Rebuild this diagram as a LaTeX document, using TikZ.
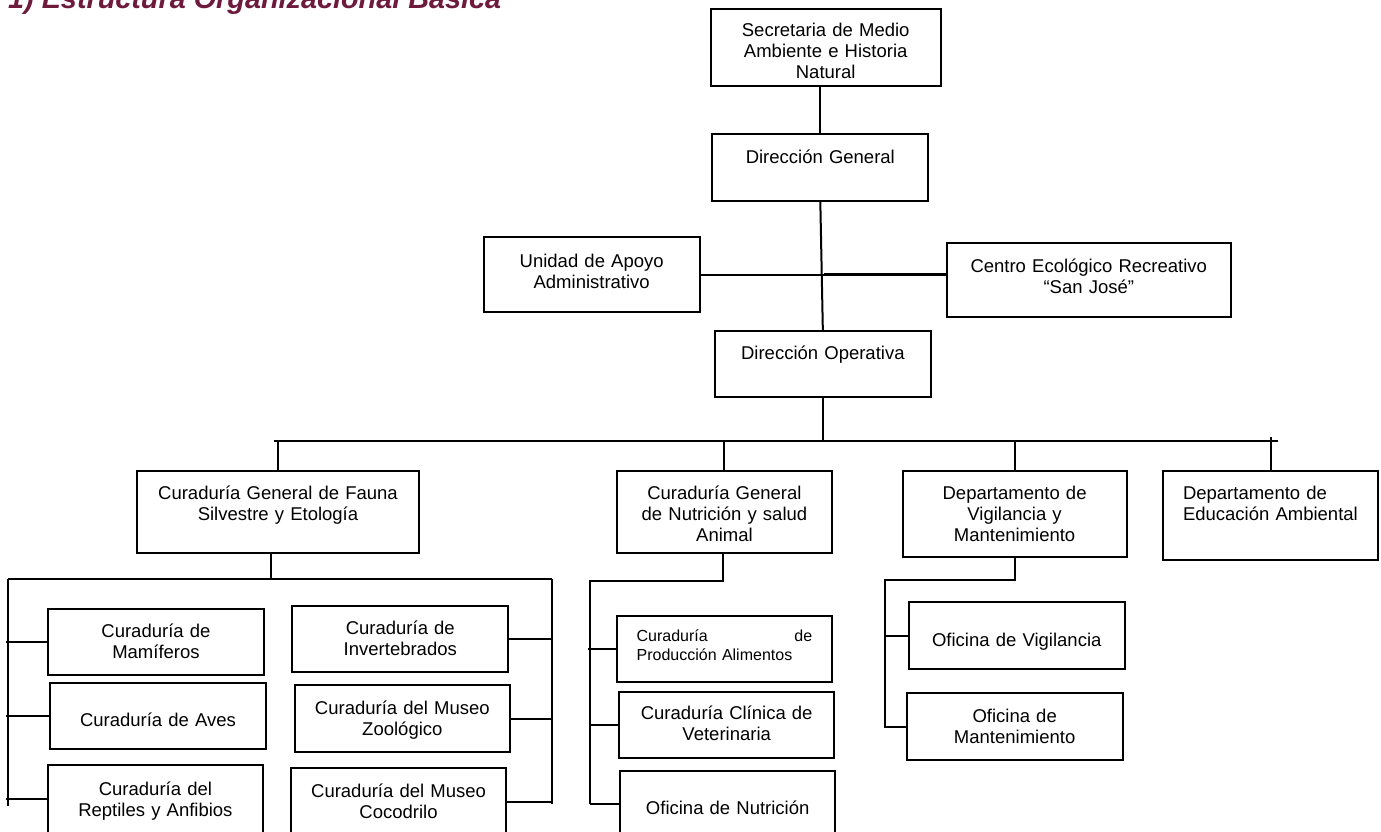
\documentclass[tikz,border=0pt]{standalone}
\usepackage{fontspec}
\setmainfont{Liberation Sans}
\usepackage{tikz}
\usetikzlibrary{calc}
\usepackage{xcolor}
\definecolor{titlered}{RGB}{109,26,60}
\newcommand{\boxfont}{\fontsize{18.5}{21}\selectfont}
\newcommand{\smallboxfont}{\fontsize{16}{19}\selectfont}

\begin{document}
\begin{tikzpicture}[x=1pt, y=-1pt,
  orgbox/.style={draw, line width=2pt, inner sep=0pt, outer sep=0pt},
  boxtext/.style={font=\boxfont, align=center, anchor=base, inner sep=0pt, text width=#1},
  conn/.style={line width=2pt}]
\useasboundingbox (0,0) rectangle (1381,831);
\clip (0,0) rectangle (1381,831);

\node[anchor=base west, inner sep=0pt, text=titlered, font=\fontsize{28.8}{32}\selectfont\bfseries\itshape] (title) at (8,8) {1) Estructura Organizacional Básica};

% upper levels
\node[orgbox, minimum width=230pt, minimum height=77.6pt, label={[boxtext=224pt, yshift=-28pt]90:{Secretaria de Medio\\Ambiente e Historia\\Natural}}] (sec) at (825.7,47.5) {};
\node[orgbox, minimum width=216pt, minimum height=66.7pt, label={[boxtext=210pt, yshift=-29pt]90:{Dirección General}}] (dg) at (820.3,167.65) {};
\node[orgbox, minimum width=216pt, minimum height=75pt, label={[boxtext=210pt, yshift=-30pt]90:{Unidad de Apoyo\\Administrativo}}] (una) at (591.7,274.8) {};
\node[orgbox, minimum width=284.5pt, minimum height=74pt, label={[boxtext=278pt, yshift=-29.5pt]90:{Centro Ecológico Recreativo\\“San José”}}] (cen) at (1088.75,280) {};
\node[orgbox, minimum width=215.7pt, minimum height=66.6pt, label={[boxtext=210pt, yshift=-28.5pt]90:{Dirección Operativa}}] (dop) at (822.85,364) {};

\draw[conn] (dg.north) -- (dg.north |- sec.south);
\draw[conn] (dg.south) -- (dop.north);
\draw[conn] (una.east) -- (una.east -| cen.west);
\draw[line width=3pt] ($(una.east -| dop.north)+(1,0)$) -- (una.east -| cen.west);

% second level
\coordinate (busL) at (273.6,440.5);
\coordinate (busR) at (1277.7,440.5);

\node[orgbox, minimum width=282pt, minimum height=82.6pt, label={[boxtext=276pt, yshift=-29pt]90:{Curaduría General de Fauna\\Silvestre y Etología}}] (fau) at (278,512) {};
\node[orgbox, minimum width=215.7pt, minimum height=82.6pt, label={[boxtext=210pt, yshift=-29pt]90:{Curaduría General\\de Nutrición y salud\\Animal}}] (nut) at (724.45,512) {};
\node[orgbox, minimum width=224pt, minimum height=86.3pt, label={[boxtext=218pt, yshift=-28pt]90:{Departamento de\\Vigilancia y\\Mantenimiento}}] (dvm) at (1014.6,514.15) {};
\node[orgbox, minimum width=215pt, minimum height=89pt, label={[boxtext=190pt, align=left, xshift=7.5pt, yshift=-28.5pt]90:{Departamento de\\Educación Ambiental}}] (edu) at (1270.5,515.5) {};

\draw[conn] (dop.south) -- (dop.south |- busL);
\draw[conn] (busL) -- (busR);
\draw[conn] (fau.north) -- (fau.north |- busL);
\draw[conn] (nut.north) -- (nut.north |- busL);
\draw[conn] (dvm.north) -- (dvm.north |- busL);
\draw[conn] (edu.north) -- ++(0,-34.5);

% fauna
\node[orgbox, minimum width=215.5pt, minimum height=66pt, label={[boxtext=210pt, yshift=-28pt]90:{Curaduría de\\Mamíferos}}] (mam) at (155.95,642) {};
\node[orgbox, minimum width=216pt, minimum height=66.3pt, label={[boxtext=210pt, yshift=-44pt]90:{Curaduría de Aves}}] (ave) at (158,715.85) {};
\node[orgbox, minimum width=215.8pt, minimum height=68pt, label={[boxtext=210pt, yshift=-30pt]90:{Curaduría del\\Reptiles y Anfibios}}] (rep) at (155.4,799) {};
\node[orgbox, minimum width=215.8pt, minimum height=66.3pt, label={[boxtext=210pt, yshift=-29pt]90:{Curaduría de\\Invertebrados}}] (inv) at (400.3,638.85) {};
\node[orgbox, minimum width=215.3pt, minimum height=66.4pt, label={[boxtext=210pt, yshift=-29.5pt]90:{Curaduría del Museo\\Zoológico}}] (zoo) at (402.35,718.5) {};
\node[orgbox, minimum width=215.5pt, minimum height=67.7pt, label={[boxtext=210pt, yshift=-29pt]90:{Curaduría del Museo\\Cocodrilo}}] (coc) at (398.55,802) {};

\coordinate (fbM) at (271,578.7);
\coordinate (fbL) at (8.4,578.7);
\coordinate (fbR) at (551.6,578.7);
\draw[conn] (fbM |- fau.south) -- (fbM);
\draw[conn] (fbL) -- (fbR);
\draw[conn] (fbL) -- ++(0,227);
\draw[conn] (fbR) -- ++(0,225);
\draw[conn] (mam.west) -- ($(mam.west -| fbL)+(-2,0)$);
\draw[conn] (ave.west) -- ($(ave.west -| fbL)+(-2,0)$);
\draw[conn] (rep.west) -- ($(rep.west -| fbL)+(-2,0)$);
\draw[conn] (inv.east) -- (inv.east -| fbR);
\draw[conn] (zoo.east) -- (zoo.east -| fbR);
\draw[conn] (coc.east) -- (coc.east -| fbR);

% nutricion
\node[orgbox, minimum width=215.7pt, minimum height=66pt, label={[boxtext=175.6pt, font=\smallboxfont, align=left, yshift=-26pt]90:{\makebox[175.6pt][l]{Curaduría\hfill de}\\Producción Alimentos}}] (pro) at (724.45,648.7) {};
\node[orgbox, minimum width=215.4pt, minimum height=66pt, label={[boxtext=210pt, yshift=-28pt]90:{Curaduría Clínica de\\Veterinaria}}] (cli) at (726.7,724.7) {};
\node[orgbox, minimum width=215.4pt, minimum height=66.3pt, label={[boxtext=210pt, yshift=-44pt]90:{Oficina de Nutrición}}] (ofn) at (727.7,803.85) {};

\coordinate (nbM) at (723,580.7);
\coordinate (nbL) at (589.7,580.7);
\draw[conn] (nbM |- nut.south) -- (nbM) -- (nbL) -- ++(0,223);
\draw[conn] (pro.west) -- ($(pro.west -| nbL)+(-2,0)$);
\draw[conn] (cli.west) -- (cli.west -| nbL);
\draw[conn] (ofn.west) -- (ofn.west -| nbL);

% vigilancia
\node[orgbox, minimum width=215.7pt, minimum height=66.4pt, label={[boxtext=210pt, yshift=-44pt]90:{Oficina de Vigilancia}}] (ofv) at (1016.75,635.5) {};
\node[orgbox, minimum width=215.7pt, minimum height=66.4pt, label={[boxtext=210pt, yshift=-29pt]90:{Oficina de\\Mantenimiento}}] (ofm) at (1014.65,726.5) {};

\coordinate (vbM) at (1015,580);
\coordinate (vbL) at (884.5,580);
\draw[conn] (dvm.south) -- (dvm.south |- vbM) -- (vbL) -- ++(0,148);
\draw[conn] (ofv.west) -- (ofv.west -| vbL);
\draw[conn] (ofm.west) -- (ofm.west -| vbL);

\end{tikzpicture}
\end{document}
